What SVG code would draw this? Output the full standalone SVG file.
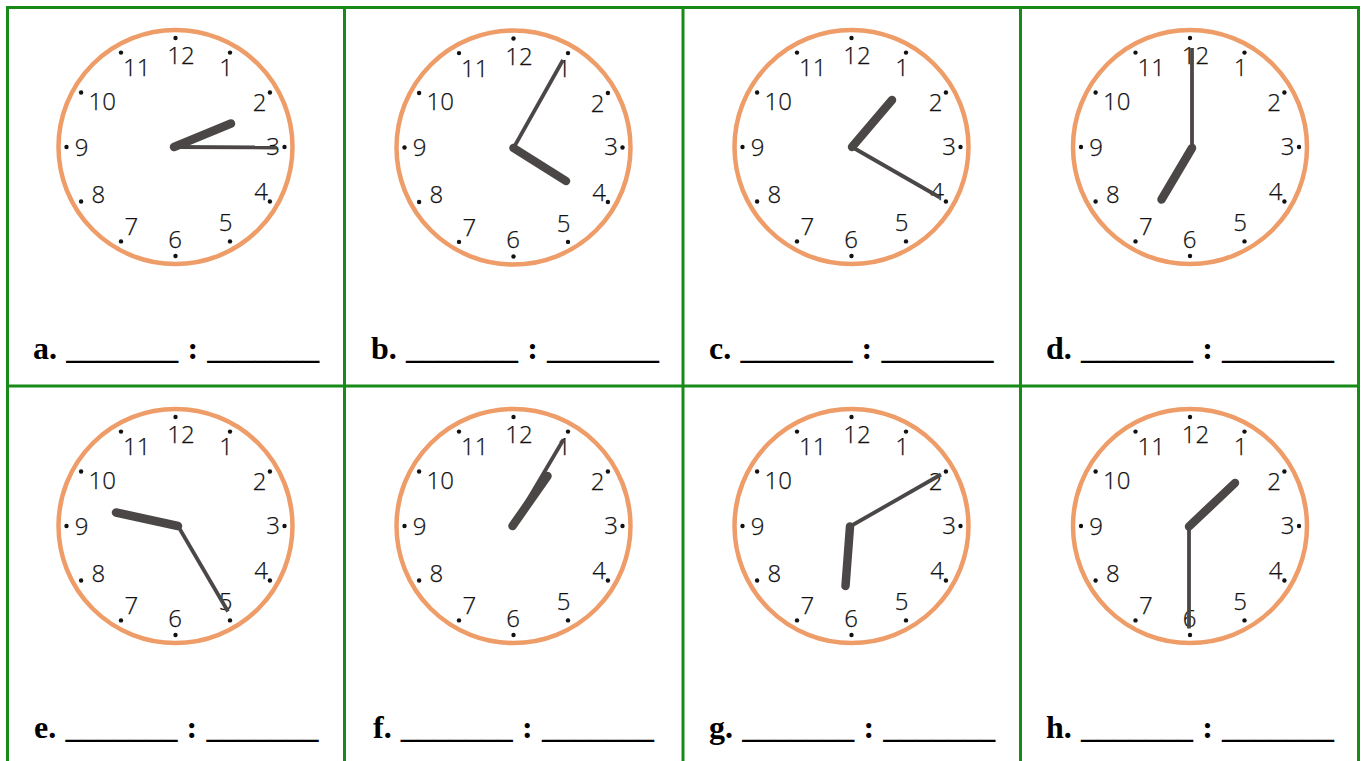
<svg xmlns="http://www.w3.org/2000/svg" xmlns:xlink="http://www.w3.org/1999/xlink" width="1365" height="761" viewBox="0 0 1365 761">
<style>
.rim{fill:#fff;stroke:#ee9c68;stroke-width:4.5}
.dot{fill:#111}
.num{font-family:"Open Sans","Noto Sans",sans-serif;font-weight:300;font-size:24px;fill:#111;stroke:#111;stroke-width:0.25;text-anchor:middle}
.hr{stroke:#4b4747;stroke-width:8.5;stroke-linecap:round;fill:none}
.mn{stroke:#4b4747;stroke-width:3.8;stroke-linecap:butt;fill:none}
.grid{stroke:#178a17;stroke-width:3;fill:none}
.lbl{font-family:"Liberation Serif","Times New Roman",serif;font-weight:bold;font-size:32px;word-spacing:1.2px;fill:#000}
</style>
<defs>
<g id="face">
<circle class="rim" cx="0" cy="0" r="117"/>
<g class="dot">
<circle cx="0" cy="-109" r="2.2"/><circle cx="54.5" cy="-94.4" r="2.2"/><circle cx="94.4" cy="-54.5" r="2.2"/>
<circle cx="109" cy="0" r="2.2"/><circle cx="94.4" cy="54.5" r="2.2"/><circle cx="54.5" cy="94.4" r="2.2"/>
<circle cx="0" cy="109" r="2.2"/><circle cx="-54.5" cy="94.4" r="2.2"/><circle cx="-94.4" cy="54.5" r="2.2"/>
<circle cx="-109" cy="0" r="2.2"/><circle cx="-94.4" cy="-54.5" r="2.2"/><circle cx="-54.5" cy="-94.4" r="2.2"/>
</g>
<g class="num">
<text x="5.5" y="-82.6">12</text><text x="50.7" y="-70.7">1</text><text x="84.2" y="-35.7">2</text>
<text x="97.5" y="7.9">3</text><text x="85.5" y="53.4">4</text><text x="50" y="84.3">5</text>
<text x="-0.3" y="100.8">6</text><text x="-44.2" y="88.4">7</text><text x="-77.2" y="55.8">8</text>
<text x="-93.8" y="8.9">9</text><text x="-73.3" y="-37.4">10</text><text x="-38.7" y="-70.7">11</text>
</g>
</g>
</defs>
<rect width="1365" height="761" fill="#fff"/>
<g id="grid" class="grid">
<line x1="6" y1="7.5" x2="1360" y2="7.5"/>
<line x1="6" y1="386" x2="1360" y2="386"/>
<line x1="7.5" y1="6" x2="7.5" y2="761"/>
<line x1="344.5" y1="6" x2="344.5" y2="761"/>
<line x1="683" y1="6" x2="683" y2="761"/>
<line x1="1020.5" y1="6" x2="1020.5" y2="761"/>
<line x1="1358.5" y1="6" x2="1358.5" y2="761"/>
</g>
<g id="clock-a">
<use xlink:href="#face" href="#face" transform="translate(175.5,147)"/>
<line class="mn" x1="174" y1="147" x2="277" y2="147.5"/>
<line class="hr" x1="174" y1="147" x2="231" y2="123.5"/>
<text class="lbl" x="33" y="359">a. _______ : _______</text>
</g>
<g id="clock-b">
<use xlink:href="#face" href="#face" transform="translate(513.5,147.5)"/>
<line class="mn" x1="513.5" y1="148" x2="563" y2="60"/>
<line class="hr" x1="513.5" y1="148" x2="566" y2="181"/>
<text class="lbl" x="371" y="359">b. _______ : _______</text>
</g>
<g id="clock-c">
<use xlink:href="#face" href="#face" transform="translate(851.5,147)"/>
<line class="mn" x1="852" y1="147" x2="940" y2="197.5"/>
<line class="hr" x1="852" y1="147" x2="892" y2="100"/>
<text class="lbl" x="709" y="359">c. _______ : _______</text>
</g>
<g id="clock-d">
<use xlink:href="#face" href="#face" transform="translate(1190,147)"/>
<line class="mn" x1="1192" y1="148" x2="1192" y2="48"/>
<line class="hr" x1="1192" y1="148" x2="1161.5" y2="199.5"/>
<text class="lbl" x="1046" y="359">d. _______ : _______</text>
</g>
<g id="clock-e">
<use xlink:href="#face" href="#face" transform="translate(175.5,526)"/>
<line class="mn" x1="178" y1="526" x2="228" y2="611.5"/>
<line class="hr" x1="178" y1="526" x2="116" y2="512.5"/>
<text class="lbl" x="34" y="738">e. _______ : _______</text>
</g>
<g id="clock-f">
<use xlink:href="#face" href="#face" transform="translate(513.5,526)"/>
<line class="mn" x1="512.5" y1="526" x2="563.5" y2="439.5"/>
<line class="hr" x1="512.5" y1="526" x2="547.5" y2="476"/>
<text class="lbl" x="373" y="738">f. _______ : _______</text>
</g>
<g id="clock-g">
<use xlink:href="#face" href="#face" transform="translate(851.5,526)"/>
<line class="mn" x1="850" y1="526.5" x2="941" y2="474.5"/>
<line class="hr" x1="850" y1="526.5" x2="845.5" y2="586"/>
<text class="lbl" x="709" y="738">g. _______ : _______</text>
</g>
<g id="clock-h">
<use xlink:href="#face" href="#face" transform="translate(1190,526)"/>
<line class="mn" x1="1189" y1="526.5" x2="1189" y2="628.5"/>
<line class="hr" x1="1189" y1="526.5" x2="1235" y2="483"/>
<text class="lbl" x="1046" y="738">h. _______ : _______</text>
</g>
</svg>
